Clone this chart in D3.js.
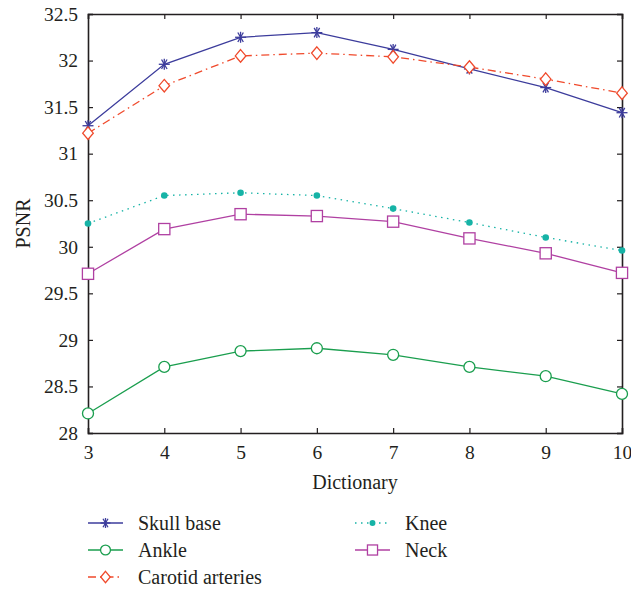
<!DOCTYPE html>
<html>
<head>
<meta charset="utf-8">
<script src="https://cdn.jsdelivr.net/npm/d3@7"></script>
<style>
  body { margin: 0; background: #fff; }
  text { font-family: "Liberation Serif", "DejaVu Serif", serif; fill: #231f20; }
</style>
</head>
<body>
<div id="container"></div>
<script>
/* DATA */
const dictionary = [3, 4, 5, 6, 7, 8, 9, 10];
const skullBase = [31.30, 31.96, 32.25, 32.30, 32.12, 31.91, 31.71, 31.44];
const ankle = [28.21, 28.71, 28.88, 28.91, 28.84, 28.71, 28.61, 28.42];
const carotid = [31.22, 31.73, 32.05, 32.08, 32.04, 31.93, 31.80, 31.65];
const knee = [30.25, 30.55, 30.58, 30.55, 30.41, 30.26, 30.10, 29.96];
const neck = [29.71, 30.19, 30.35, 30.33, 30.27, 30.09, 29.93, 29.72];
const yTicks = [28, 28.5, 29, 29.5, 30, 30.5, 31, 31.5, 32, 32.5];

const series = [
  {name: "Skull base", values: skullBase, color: "#3c3c9c", dash: null, marker: "star"},
  {name: "Ankle", values: ankle, color: "#1a9e4e", dash: null, marker: "circle"},
  {name: "Carotid arteries", values: carotid, color: "#f04a2c", dash: "8,4,1.5,4", marker: "diamond"},
  {name: "Knee", values: knee, color: "#16b3a6", dash: "1.5,4.5", marker: "dot"},
  {name: "Neck", values: neck, color: "#b040a2", dash: null, marker: "square"}
];

/* LAYOUT */
const margin = {top: 14, right: 9, bottom: 160, left: 88};
const W = 631, H = 593;
const width = W - margin.left - margin.right;
const height = H - margin.top - margin.bottom;

const svg = d3.select("#container")
  .append("svg")
  .attr("width", W)
  .attr("height", H);

const g = svg.append("g")
  .attr("transform", "translate(" + margin.left + "," + margin.top + ")");

/* SCALES */
const xScale = d3.scaleLinear().domain([3, 10]).range([0, width]);
const yScale = d3.scaleLinear().domain([28, 32.5]).range([height, 0]);

/* AXES (ticks inward, on all four sides) */
const fmt = d => String(d);
const bottomAxis = g.append("g")
  .attr("transform", "translate(0," + height + ")")
  .call(d3.axisBottom(xScale).tickValues(dictionary).tickSize(-5).tickPadding(12).tickFormat(fmt));
const topAxis = g.append("g")
  .call(d3.axisTop(xScale).tickValues(dictionary).tickSize(-5).tickFormat(""));
const leftAxis = g.append("g")
  .call(d3.axisLeft(yScale).tickValues(yTicks).tickSize(-5).tickPadding(10).tickFormat(fmt));
const rightAxis = g.append("g")
  .attr("transform", "translate(" + width + ",0)")
  .call(d3.axisRight(yScale).tickValues(yTicks).tickSize(-5).tickFormat(""));

[bottomAxis, topAxis, leftAxis, rightAxis].forEach(a => {
  a.select(".domain").attr("stroke", "#231f20").attr("stroke-width", 1.6);
  a.selectAll(".tick line").attr("stroke", "#231f20").attr("stroke-width", 1.2);
  a.selectAll(".tick text").style("font-size", "19.5px").attr("fill", "#231f20")
    .style("font-family", "'Liberation Serif', 'DejaVu Serif', serif");
});

/* MARKERS */
function drawMarker(sel, type, color, k) {
  k = k || 1;
  if (type === "star") {
    const r = 5.5 * k;
    [0, 60, 120].forEach(a => {
      sel.append("line")
        .attr("x1", -r * Math.cos(a * Math.PI / 180)).attr("y1", -r * Math.sin(a * Math.PI / 180))
        .attr("x2", r * Math.cos(a * Math.PI / 180)).attr("y2", r * Math.sin(a * Math.PI / 180))
        .attr("stroke", color).attr("stroke-width", 1.3);
    });
    sel.append("line").attr("x1", 0).attr("y1", -r).attr("x2", 0).attr("y2", r)
      .attr("stroke", color).attr("stroke-width", 1.3);
  } else if (type === "circle") {
    sel.append("circle").attr("r", 5.5 * k).attr("fill", "#fff").attr("stroke", color).attr("stroke-width", 1.3);
  } else if (type === "diamond") {
    sel.append("path").attr("d", "M0,-6.3L5.3,0L0,6.3L-5.3,0Z")
      .attr("transform", "scale(" + k + ")")
      .attr("fill", "#fff").attr("stroke", color).attr("stroke-width", 1.3 / k);
  } else if (type === "dot") {
    sel.append("circle").attr("r", 3.3 * k).attr("fill", color);
  } else if (type === "square") {
    sel.append("rect").attr("x", -5.6 * k).attr("y", -5.6 * k).attr("width", 11.2 * k).attr("height", 11.2 * k)
      .attr("fill", "#fff").attr("stroke", color).attr("stroke-width", 1.3);
  }
}

/* LINES */
const line = d3.line()
  .x((d, i) => xScale(dictionary[i]))
  .y(d => yScale(d));

series.forEach(s => {
  g.append("path")
    .datum(s.values)
    .attr("fill", "none")
    .attr("stroke", s.color)
    .attr("stroke-width", 1.3)
    .attr("stroke-dasharray", s.dash)
    .attr("d", line);
});

series.forEach(s => {
  s.values.forEach((v, i) => {
    const m = g.append("g")
      .attr("transform", "translate(" + xScale(dictionary[i]) + "," + yScale(v) + ")");
    drawMarker(m, s.marker, s.color);
  });
});

/* LABELS */
svg.append("text")
  .attr("x", margin.left + width / 2)
  .attr("y", 489)
  .attr("text-anchor", "middle")
  .style("font-size", "20px")
  .text("Dictionary");

svg.append("text")
  .attr("transform", "translate(30," + (margin.top + height / 2) + ") rotate(-90)")
  .attr("text-anchor", "middle")
  .style("font-size", "20px")
  .text("PSNR");

/* LEGEND */
const legendPos = [
  {x: 88, y: 523}, {x: 88, y: 550}, {x: 88, y: 577},
  {x: 355, y: 523}, {x: 355, y: 550}
];
series.forEach((s, i) => {
  const p = legendPos[i];
  const lg = svg.append("g").attr("transform", "translate(" + p.x + "," + p.y + ")");
  lg.append("line")
    .attr("x1", 0).attr("x2", 35).attr("y1", 0).attr("y2", 0)
    .attr("stroke", s.color).attr("stroke-width", 1.3)
    .attr("stroke-dasharray", s.dash);
  const m = lg.append("g").attr("transform", "translate(17.5,0)");
  drawMarker(m, s.marker, s.color, 0.9);
  lg.append("text")
    .attr("x", 50)
    .attr("y", 0)
    .attr("dy", "0.35em")
    .style("font-size", "20px")
    .text(s.name);
});
</script>
</body>
</html>
